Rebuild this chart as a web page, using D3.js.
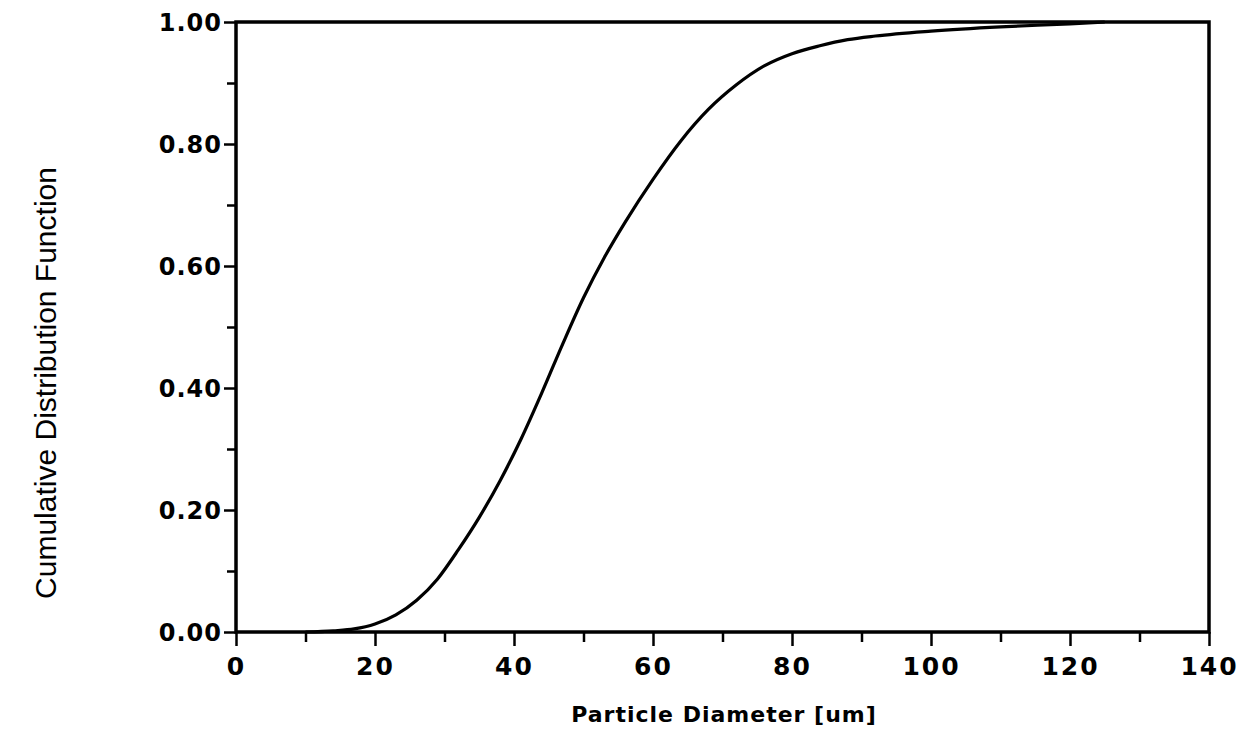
<!DOCTYPE html>
<html>
<head>
<meta charset="utf-8">
<script src="https://cdn.jsdelivr.net/npm/d3@7"></script>
<style>
  html, body { margin: 0; padding: 0; background: #fff; }
  svg { display: block; }
</style>
</head>
<body>
<svg id="chart" width="1260" height="751"></svg>
<script>
// Particle size distribution: cumulative fraction vs. diameter (um)
const diameter = [10, 14, 17, 20, 23, 26, 29, 32, 35, 38, 41, 44, 47, 50, 53, 56, 60, 64, 68, 72, 76, 80, 84, 88, 92, 100, 110, 120, 125];
const cdf      = [0.000, 0.002, 0.005, 0.013, 0.028, 0.052, 0.087, 0.135, 0.188, 0.248, 0.316, 0.392, 0.472, 0.548, 0.614, 0.672, 0.742, 0.805, 0.857, 0.897, 0.928, 0.948, 0.961, 0.971, 0.977, 0.985, 0.992, 0.997, 1.000];

const xMajorTicks = [0, 20, 40, 60, 80, 100, 120, 140];
const xMinorTicks = [10, 30, 50, 70, 90, 110, 130];
const yMajorTicks = [0, 0.2, 0.4, 0.6, 0.8, 1.0];
const yMinorTicks = [0.1, 0.3, 0.5, 0.7, 0.9];

const xTitle = "Particle Diameter [um]";
const yTitle = "Cumulative Distribution Function";

const plot = { left: 236, right: 1209, top: 22, bottom: 632 };

const svg = d3.select("#chart");

const x = d3.scaleLinear().domain([0, 140]).range([plot.left, plot.right]);
const y = d3.scaleLinear().domain([0, 1]).range([plot.bottom, plot.top]);

const tickFont = "'DejaVu Sans', sans-serif";

// x axis: major ticks with labels, minor ticks without
const xAxis = svg.append("g")
  .attr("transform", `translate(0,${plot.bottom})`)
  .call(d3.axisBottom(x).tickValues(xMajorTicks).tickSize(14).tickPadding(11).tickFormat(d3.format("d")));
svg.append("g")
  .attr("transform", `translate(0,${plot.bottom})`)
  .call(d3.axisBottom(x).tickValues(xMinorTicks).tickSize(10).tickFormat(""))
  .call(g => g.select(".domain").remove());

// y axis
const yAxis = svg.append("g")
  .attr("transform", `translate(${plot.left},0)`)
  .call(d3.axisLeft(y).tickValues(yMajorTicks).tickSize(12).tickPadding(2).tickFormat(d3.format(".2f")));
svg.append("g")
  .attr("transform", `translate(${plot.left},0)`)
  .call(d3.axisLeft(y).tickValues(yMinorTicks).tickSize(9).tickFormat(""))
  .call(g => g.select(".domain").remove());

svg.selectAll(".domain").remove();
svg.selectAll(".tick line").attr("stroke", "#000").attr("stroke-width", 2.5);
xAxis.selectAll(".tick text")
  .attr("fill", "#000")
  .style("font-family", tickFont)
  .style("font-weight", "bold")
  .style("font-size", "25px")
  .style("letter-spacing", "2px");
yAxis.selectAll(".tick text")
  .attr("fill", "#000")
  .attr("dy", "0.36em")
  .style("font-family", tickFont)
  .style("font-weight", "bold")
  .style("font-size", "24px")
  .style("letter-spacing", "1px");

// plot frame
svg.append("rect")
  .attr("x", plot.left).attr("y", plot.top)
  .attr("width", plot.right - plot.left).attr("height", plot.bottom - plot.top)
  .attr("fill", "none").attr("stroke", "#000").attr("stroke-width", 3.5);

// distribution curve
const points = diameter.map((d, i) => [d, cdf[i]]);
svg.append("path")
  .datum(points)
  .attr("fill", "none")
  .attr("stroke", "#000")
  .attr("stroke-width", 3.2)
  .attr("stroke-linejoin", "round")
  .attr("d", d3.line().x(d => x(d[0])).y(d => y(d[1])).curve(d3.curveMonotoneX));

// axis titles
svg.append("text")
  .attr("x", 724).attr("y", 722)
  .attr("text-anchor", "middle")
  .style("font-family", tickFont)
  .style("font-weight", "bold")
  .style("font-size", "22px")
  .style("letter-spacing", "1px")
  .text(xTitle);

svg.append("text")
  .attr("transform", "translate(56,383) rotate(-90)")
  .attr("text-anchor", "middle")
  .style("font-family", "'Liberation Sans', Arial, sans-serif")
  .style("font-size", "30px")
  .text(yTitle);
</script>
</body>
</html>
